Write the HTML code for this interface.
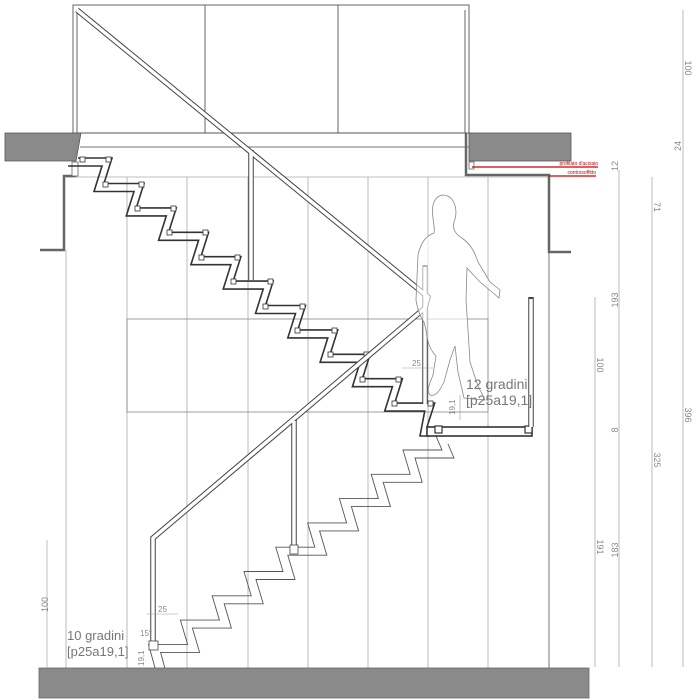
<!DOCTYPE html>
<html><head><meta charset="utf-8"><style>
html,body{margin:0;padding:0;background:#fff;}
svg{display:block;font-family:"Liberation Sans",sans-serif;}
</style></head><body>
<svg width="700" height="700" viewBox="0 0 700 700" xmlns="http://www.w3.org/2000/svg">
<defs>
<polyline id="up" fill="none" points="78,158 112,158 104,183.5 144,183.5 136.3,207.9 176.3,207.9 168.6,232.3 208.6,232.3 200.9,256.7 240.9,256.7 233.2,281.1 273.2,281.1 265.5,305.5 305.5,305.5 297.8,329.9 337.8,329.9 330.1,354.3 370.1,354.3 362.4,378.7 402.4,378.7 394.7,403.1 434.7,403.1 427,427"/>
<polyline id="lo" fill="none" points="436,436 442,450 403,450 410.2,474.3 371.2,474.3 378.4,498.6 339.4,498.6 346.6,522.9 307.6,522.9 314.8,547.2 275.8,547.2 283,571.5 244,571.5 251.2,595.8 212.2,595.8 219.4,620.1 180.4,620.1 187.6,644.4 148.6,644.4 155,668"/>
</defs>
<!-- panel verticals -->
<g stroke="#aaa" stroke-width="0.8">
<line x1="66" y1="250" x2="66" y2="668"/>
<line x1="127" y1="177" x2="127" y2="668"/>
<line x1="187" y1="177" x2="187" y2="668"/>
<line x1="248" y1="177" x2="248" y2="668"/>
<line x1="308" y1="177" x2="308" y2="668"/>
<line x1="368" y1="177" x2="368" y2="668"/>
<line x1="428" y1="177" x2="428" y2="668"/>
<line x1="488" y1="177" x2="488" y2="668"/>
<line x1="66" y1="177" x2="549" y2="177"/>
</g>
<rect x="127" y="319" width="361" height="93" fill="none" stroke="#888" stroke-width="0.8"/>
<line x1="549" y1="252" x2="549" y2="668" stroke="#777" stroke-width="1"/>
<!-- top box -->
<g stroke="#555" stroke-width="0.9" fill="none">
<rect x="73" y="5" width="396" height="128"/>
<line x1="77" y1="10" x2="77" y2="133"/>
<line x1="465" y1="10" x2="465" y2="133"/>
<line x1="205" y1="5" x2="205" y2="133"/>
<line x1="338" y1="5" x2="338" y2="133"/>
<line x1="80" y1="147" x2="469" y2="147" stroke="#777"/>
<line x1="80" y1="133" x2="469" y2="133"/>
</g>
<!-- slabs -->
<polygon points="5,133 81,133 76,161 5,161" fill="#8a8a8a" stroke="#555" stroke-width="0.8"/>
<rect x="469" y="133" width="102" height="28" fill="#8a8a8a" stroke="#555" stroke-width="0.8"/>
<!-- brackets -->
<g fill="none" stroke="#666" stroke-width="2.5">
<path d="M40,250 L64,250 L64,176 L76,176"/>
<path d="M466,133 L466,175 L549,175 L549,252 L571,252"/>
</g>
<rect x="72" y="162" width="6" height="14" fill="#fff" stroke="#666" stroke-width="0.8"/>
<rect x="469" y="162" width="5" height="7" fill="#fff" stroke="#666" stroke-width="0.8"/>
<!-- red labels -->
<line x1="472" y1="167" x2="598" y2="167" stroke="#c00" stroke-width="1.2"/>
<line x1="549" y1="176" x2="596" y2="176" stroke="#c00" stroke-width="1.2"/>
<text x="598" y="165" font-size="5" fill="#c00" text-anchor="end">profilato d'acciaio</text>
<text x="596" y="174" font-size="5" fill="#c00" text-anchor="end">controsoffitto</text>
<!-- lower flight -->
<use href="#lo" stroke="#555" stroke-width="0.9"/>
<use href="#lo" stroke="#555" stroke-width="0.9" transform="translate(12,8)"/>
<!-- floor -->
<rect x="39" y="668" width="550" height="30" fill="#8a8a8a" stroke="#666" stroke-width="0.8"/>
<!-- upper flight -->
<use href="#up" stroke="#333" stroke-width="1.6"/>
<polyline fill="none" stroke="#333" stroke-width="1.6" points="68,166 102,166 94,191.5 134,191.5 126.3,215.9 166.3,215.9 158.6,240.3 198.6,240.3 190.9,264.7 230.9,264.7 223.2,289.1 263.2,289.1 255.5,313.5 295.5,313.5 287.8,337.9 327.8,337.9 320.1,362.3 360.1,362.3 352.4,386.7 392.4,386.7 384.7,411.1 424.7,411.1 420,436 430,436"/>
<rect x="427" y="427" width="105" height="9" fill="#fff" stroke="#333" stroke-width="1.6"/>
<g fill="#fff" stroke="#333" stroke-width="0.8">
<rect x="80" y="157" width="5" height="5"/><rect x="106" y="157" width="5" height="5"/>
<rect x="103" y="182" width="5" height="5"/><rect x="139" y="182" width="5" height="5"/>
<rect x="135" y="206" width="5" height="5"/><rect x="171" y="206" width="5" height="5"/>
<rect x="167" y="230" width="5" height="5"/><rect x="203" y="230" width="5" height="5"/>
<rect x="199" y="255" width="5" height="5"/><rect x="235" y="255" width="5" height="5"/>
<rect x="231" y="279" width="5" height="5"/><rect x="268" y="279" width="5" height="5"/>
<rect x="263" y="304" width="5" height="5"/><rect x="300" y="304" width="5" height="5"/>
<rect x="295" y="328" width="5" height="5"/><rect x="332" y="328" width="5" height="5"/>
<rect x="328" y="352" width="5" height="5"/><rect x="364" y="352" width="5" height="5"/>
<rect x="360" y="377" width="5" height="5"/><rect x="396" y="377" width="5" height="5"/>
<rect x="392" y="401" width="5" height="5"/><rect x="428" y="401" width="5" height="5"/>
<rect x="435" y="426" width="7" height="7" stroke-width="1.2"/><rect x="525" y="426" width="7" height="7" stroke-width="1.2"/>
</g>
<!-- rails -->
<g fill="none" stroke-linejoin="miter">
<g stroke="#444" stroke-width="5.5">
<path d="M77,10 L428,297 L425,308 L153,538 L153,650"/>
<line x1="251" y1="150" x2="251" y2="280"/>
<line x1="294" y1="419" x2="294" y2="553"/>
<line x1="425" y1="265" x2="425" y2="404"/>
<line x1="531" y1="297" x2="531" y2="427"/>
</g>
<g stroke="#fff" stroke-width="3.5">
<path d="M77,10 L428,297 L425,308 L153,538 L153,650"/>
<line x1="251" y1="152" x2="251" y2="280"/>
<line x1="294" y1="421" x2="294" y2="553"/>
<line x1="425" y1="267" x2="425" y2="404"/>
<line x1="531" y1="299" x2="531" y2="427"/>
</g>
</g>
<rect x="290" y="545" width="8" height="9" fill="#fff" stroke="#444" stroke-width="0.8"/>
<rect x="149" y="641" width="9" height="9" fill="#fff" stroke="#444" stroke-width="0.8"/>
<!-- person -->
<path d="M443,195 C434,196 431,206 433,218 C434,226 435,230 434,233 C426,236 421,242 418,255 L416,300 C418,312 421,318 424,322 L426,330 C427,340 430,350 436,356 L433,375 C430,383 426,390 430,395 C436,397 440,390 444,382 L450,360 L455,346 L458,372 L464,398 L485,400 L478,386 L470,362 L468,330 L466,300 L467,268 L480,282 L492,292 L499,298 L500,290 L490,282 L478,262 C474,250 470,244 462,238 C455,234 452,228 454,222 C458,212 456,196 443,195 Z" fill="#fff" fill-opacity="0.6" stroke="#888" stroke-width="0.8"/>
<!-- labels -->
<g fill="#777">
<text x="466" y="389" font-size="14">12 gradini</text>
<text x="466" y="405" font-size="14">[p25a19,1]</text>
<text x="67" y="640" font-size="13">10 gradini</text>
<text x="67" y="656" font-size="13">[p25a19,1]</text>
</g>
<g fill="#888" font-size="8" stroke="none">
<text x="412" y="366">25</text>
<text x="158" y="612">25</text>
<text x="140" y="636">15°</text>
<text transform="translate(455,415) rotate(-90)">19,1</text>
<text transform="translate(144,666) rotate(-90)">19,1</text>
</g>
<g stroke="#999" stroke-width="0.6">
<line x1="402" y1="368" x2="433" y2="368"/>
<line x1="147" y1="614" x2="178" y2="614"/>
<line x1="460" y1="395" x2="460" y2="420"/>
<line x1="47" y1="540" x2="47" y2="668"/>
</g>
<!-- right dimensions -->
<g stroke="#bbb" stroke-width="1">
<line x1="595" y1="297" x2="595" y2="667"/>
<line x1="619" y1="170" x2="619" y2="667"/>
<line x1="652" y1="177" x2="652" y2="667"/>
<line x1="683" y1="10" x2="683" y2="667"/>
</g>
<g fill="#888" font-size="9">
<text transform="translate(48,612) rotate(-90)">100</text>
<text transform="translate(597,365) rotate(90)" text-anchor="middle">100</text>
<text transform="translate(597,547) rotate(90)" text-anchor="middle">191</text>
<text transform="translate(618,166) rotate(-90)" text-anchor="middle">12</text>
<text transform="translate(618,300) rotate(-90)" text-anchor="middle">193</text>
<text transform="translate(618,430) rotate(-90)" text-anchor="middle">8</text>
<text transform="translate(618,550) rotate(-90)" text-anchor="middle">183</text>
<text transform="translate(654,207) rotate(90)" text-anchor="middle">71</text>
<text transform="translate(654,460) rotate(90)" text-anchor="middle">325</text>
<text transform="translate(685,68) rotate(90)" text-anchor="middle">100</text>
<text transform="translate(681,146) rotate(-90)" text-anchor="middle">24</text>
<text transform="translate(685,415) rotate(90)" text-anchor="middle">396</text>
</g>
</svg>
</body></html>
